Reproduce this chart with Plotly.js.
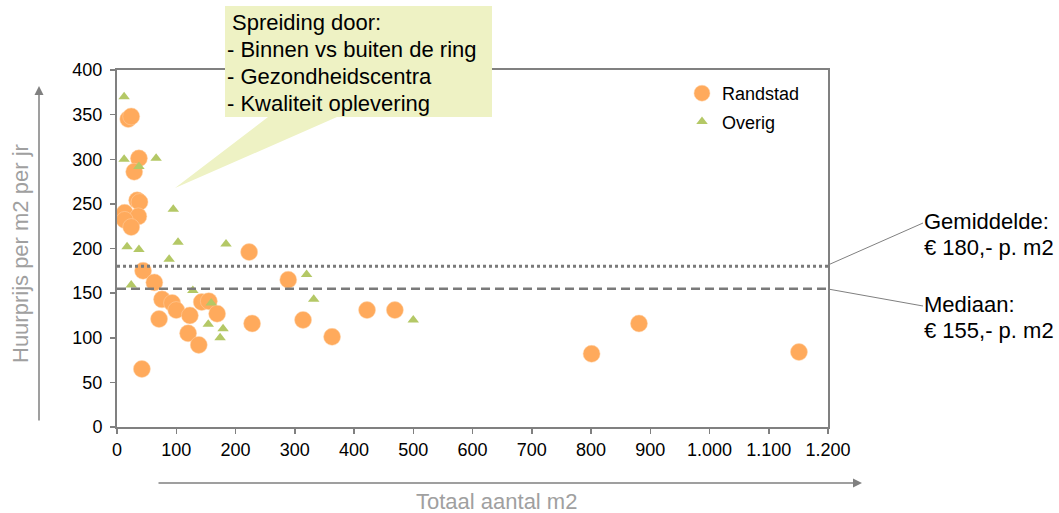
<!DOCTYPE html>
<html>
<head>
<meta charset="utf-8">
<script src="https://cdn.plot.ly/plotly-3.0.1.min.js"></script>
<style>
  html, body { margin: 0; padding: 0; background: #ffffff; }
  #chart { width: 1059px; height: 513px; }
</style>
</head>
<body>
<div id="chart"></div>
<script>
// ---- Data ----
const randstadX = [19, 24, 37, 29, 34, 38, 13, 36, 13, 24, 223, 44, 63, 76, 93, 100, 71, 123, 143, 155, 169, 120, 138, 42, 228, 289, 314, 422, 469, 363, 801, 881, 1151];
const randstadY = [345, 348, 301, 286, 254, 252, 240, 236, 232, 224, 196, 175, 162, 143, 139, 131, 121, 125, 140, 141, 127, 105, 92, 65, 116, 165, 120, 131, 131, 101, 82, 116, 84];

const overigX = [12, 12, 66, 37, 95, 17, 37, 103, 184, 88, 24, 128, 159, 154, 179, 174, 320, 332, 500];
const overigY = [370, 300, 301, 292, 244, 202, 199, 207, 205, 188, 159, 153, 139, 115, 110, 100, 171, 143, 120];

const meanValue = 180;
const medianValue = 155;

const xTickVals = [0, 100, 200, 300, 400, 500, 600, 700, 800, 900, 1000, 1100, 1200];
const xTickText = ['0', '100', '200', '300', '400', '500', '600', '700', '800', '900', '1.000', '1.100', '1.200'];
const yTickVals = [0, 50, 100, 150, 200, 250, 300, 350, 400];

const seriesNames = ['Randstad', 'Overig'];
const calloutLines = ['Spreiding door:', '- Binnen vs buiten de ring', '- Gezondheidscentra', '- Kwaliteit oplevering'];
const meanLabel = ['Gemiddelde:', '€ 180,- p. m2'];
const medianLabel = ['Mediaan:', '€ 155,- p. m2'];
const xTitle = 'Totaal aantal m2';
const yTitle = 'Huurprijs per m2 per jr';

// ---- Layout helpers (plot area in pixels) ----
const W = 1059, H = 513;
const L = 117, R = 828, T = 70, B = 427;
const px = v => (v - L) / (R - L);
const py = v => (B - v) / (B - T);

const FONT = 'Liberation Sans, Arial, sans-serif';
const GRAY = '#808080';

const traces = [
  {
    type: 'scatter', mode: 'markers', name: seriesNames[0],
    x: randstadX, y: randstadY, legendgroup: 'a',
    marker: { symbol: 'circle', size: 17, color: '#FFAA5C', line: { width: 0.5, color: '#FFD2A8' } },
    hoverinfo: 'x+y'
  },
  {
    type: 'scatter', mode: 'markers', name: seriesNames[1],
    x: overigX, y: overigY, legendgroup: 'b',
    marker: { symbol: 'triangle-up', size: 10, color: '#B4C866', line: { width: 0 } },
    hoverinfo: 'x+y'
  }
];

const calloutPath = [
  'M', px(225), py(6),
  'L', px(492), py(6),
  'L', px(492), py(117),
  'L', px(337), py(117),
  'L', px(175), py(188),
  'L', px(268), py(117),
  'L', px(225), py(117), 'Z'
];
let pathStr = '';
for (let i = 0; i < calloutPath.length; i++) {
  const t = calloutPath[i];
  if (typeof t === 'string') { pathStr += t + ' '; }
  else { pathStr += t.toFixed(4) + (typeof calloutPath[i + 1] === 'number' ? ',' : ' '); }
}

const shapes = [
  { type: 'line', xref: 'paper', yref: 'y', x0: 0, x1: 1, y0: meanValue, y1: meanValue,
    line: { color: '#7A7A7A', width: 3, dash: '3px,3px' } },
  { type: 'line', xref: 'paper', yref: 'y', x0: 0, x1: 1, y0: medianValue, y1: medianValue,
    line: { color: '#7A7A7A', width: 2.5, dash: '9px,5px' } },
  // leader lines
  { type: 'line', xref: 'paper', yref: 'paper', x0: px(828), y0: py(265), x1: px(923), y1: py(223),
    line: { color: '#808080', width: 1 } },
  { type: 'line', xref: 'paper', yref: 'paper', x0: px(828), y0: py(289), x1: px(923), y1: py(306),
    line: { color: '#808080', width: 1 } },
  // callout
  { type: 'path', xref: 'paper', yref: 'paper', path: pathStr, fillcolor: '#EEF2C4',
    line: { width: 0 }, layer: 'above' }
];

const annotations = [];
const calloutY = [22, 49, 76, 103];
const calloutX = [230, 225, 225, 225];
calloutLines.forEach((t, i) => {
  annotations.push({ xref: 'paper', yref: 'paper', x: px(calloutX[i]), y: py(calloutY[i]),
    xanchor: 'left', yanchor: 'middle', text: t, showarrow: false,
    font: { family: FONT, size: 22, color: '#000000' } });
});
const sideY = [[221, 247], [304, 330]];
[meanLabel, medianLabel].forEach((lbl, k) => {
  lbl.forEach((t, i) => {
    annotations.push({ xref: 'paper', yref: 'paper', x: px(922), y: py(sideY[k][i]),
      xanchor: 'left', yanchor: 'middle', text: t, showarrow: false,
      font: { family: FONT, size: 22, color: '#000000' } });
  });
});
// axis titles
annotations.push({ xref: 'paper', yref: 'paper', x: px(21), y: py(254), text: yTitle,
  textangle: -90, showarrow: false, xanchor: 'center', yanchor: 'middle',
  font: { family: FONT, size: 22, color: '#A0A0A0' } });
annotations.push({ xref: 'paper', yref: 'paper', x: px(497), y: py(502), text: xTitle,
  showarrow: false, xanchor: 'center', yanchor: 'middle',
  font: { family: FONT, size: 22, color: '#A0A0A0' } });
// axis arrows
annotations.push({ xref: 'paper', yref: 'paper', x: px(39), y: py(86), text: '',
  showarrow: true, ax: 0, ay: 336, arrowhead: 2, arrowsize: 1.2, arrowwidth: 1.5,
  arrowcolor: GRAY, standoff: 0, startstandoff: 0 });
annotations.push({ xref: 'paper', yref: 'paper', x: px(862), y: py(483), text: '',
  showarrow: true, ax: -705, ay: 0, arrowhead: 2, arrowsize: 1.2, arrowwidth: 1.5,
  arrowcolor: GRAY, standoff: 0, startstandoff: 0 });

const layout = {
  width: W, height: H,
  margin: { l: L, r: W - R, t: T, b: H - B, pad: 0 },
  paper_bgcolor: '#ffffff', plot_bgcolor: '#ffffff',
  font: { family: FONT, size: 18, color: '#000000' },
  showlegend: true,
  legend: { x: px(682), y: py(75), xanchor: 'left', yanchor: 'top',
    bgcolor: 'rgba(0,0,0,0)', borderwidth: 0, traceorder: 'grouped', tracegroupgap: 2,
    font: { family: FONT, size: 18, color: '#000000' } },
  xaxis: {
    range: [0, 1200], tickvals: xTickVals, ticktext: xTickText,
    showgrid: false, zeroline: false, showline: true, mirror: true,
    linecolor: GRAY, linewidth: 2, ticks: 'outside', ticklen: 5, tickwidth: 1.5, tickcolor: GRAY,
    tickfont: { family: FONT, size: 18, color: '#000000' }, fixedrange: true
  },
  yaxis: {
    range: [0, 400], tickvals: yTickVals, ticklabelstandoff: 4,
    showgrid: false, zeroline: false, showline: true, mirror: true,
    linecolor: GRAY, linewidth: 2, ticks: 'outside', ticklen: 5, tickwidth: 1.5, tickcolor: GRAY,
    tickfont: { family: FONT, size: 18, color: '#000000' }, fixedrange: true
  },
  shapes: shapes,
  annotations: annotations
};

Plotly.newPlot('chart', traces, layout, { displayModeBar: false, staticPlot: true });
</script>
</body>
</html>
